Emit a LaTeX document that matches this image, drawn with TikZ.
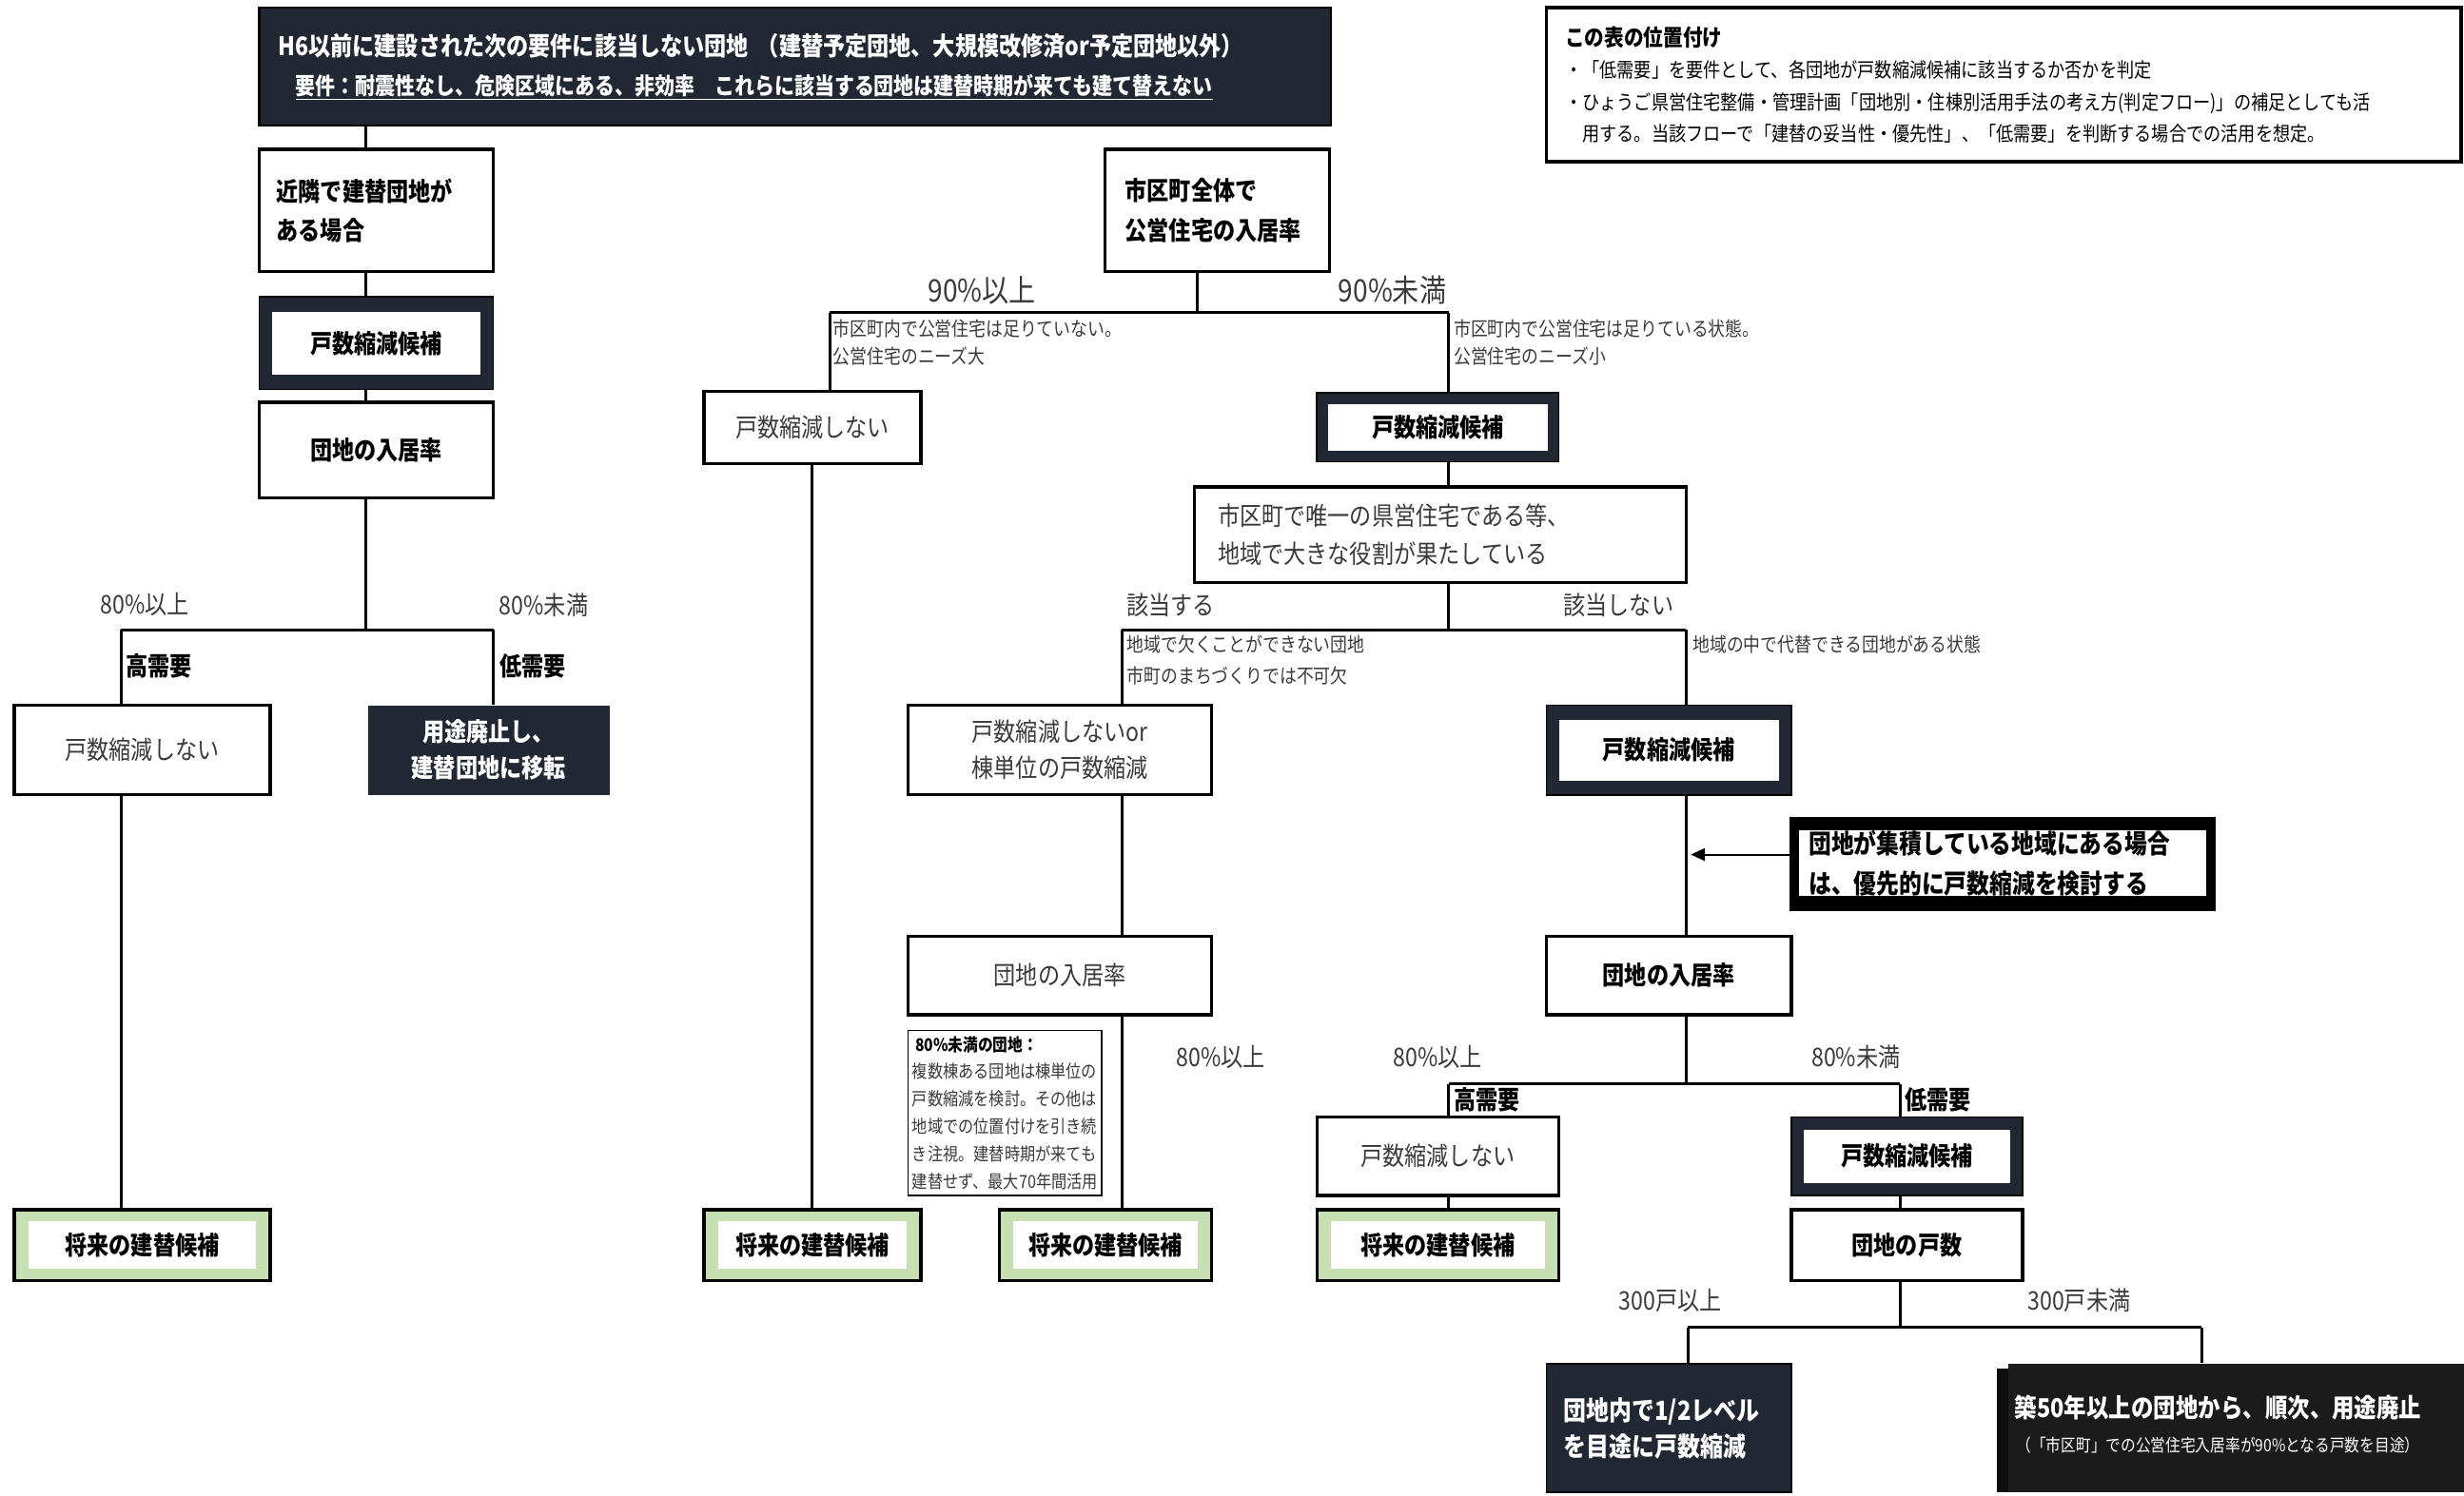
\documentclass[tikz,border=0pt]{standalone}
\usepackage{fontspec}
\setmainfont{Noto Sans CJK JP}[FakeStretch=0.86, Scale=1.163]
\usetikzlibrary{arrows.meta}
\definecolor{navy}{HTML}{222833}
\definecolor{greenc}{HTML}{C6E0B4}
\definecolor{blk}{HTML}{1B1B1B}
\definecolor{blk2}{HTML}{0E0E0E}
\definecolor{txtgray}{HTML}{3A3A3A}
\newcommand{\fsz}[2]{\fontsize{#1}{#2}\selectfont}
\begin{document}
\begin{tikzpicture}[x=1pt,y=-1pt,
  box/.style={draw=black, line width=2pt, fill=white, rectangle, inner sep=0pt, align=center},
  navyframe/.style={draw=black, line width=1pt, fill=navy, rectangle, inner sep=0pt},
  gframe/.style={draw=black, line width=2pt, fill=greenc, rectangle, inner sep=0pt},
  inwhite/.style={fill=white, rectangle, inner sep=0pt, align=center},
  lbl/.style={text=txtgray, inner sep=0pt, font=\fsz{14}{16}},
  blab/.style={inner sep=0pt, font=\fsz{14}{16}\bfseries},
  smalltxt/.style={text=txtgray, inner sep=0pt, anchor=west, font=\fsz{10.8}{12}},
  conn/.style={line width=1.8pt},
  Bfont/.style={font=\fsz{14}{25}\bfseries},
  Nfont/.style={font=\fsz{14}{25}, text=txtgray},
]
\useasboundingbox[fill=white] (0,0) rectangle (1568,952);

% ---- top box
\node[box, fill=navy, line width=1.5pt, minimum width=682, minimum height=75, text width=658, inner xsep=12, align=left, text=white, font=\fsz{14}{25}\bfseries] (nT) at (506,42.5)
 {H6以前に建設された次の要件に該当しない団地 （建替予定団地、大規模改修済or予定団地以外）\\\hspace*{11pt}{\fsz{12.7}{25}\underline{要件：耐震性なし、危険区域にある、非効率　これらに該当する団地は建替時期が来ても建て替えない}}};

% ---- top-right note
\node[draw=black, line width=2.2pt, fill=white, minimum width=582, minimum height=98, text width=558, inner xsep=12, inner ysep=0pt, align=left, font=\fsz{11}{20}] (nNB) at (1275,54)
 {{\fsz{12.5}{20}\bfseries この表の位置付け}\\・「低需要」を要件として、各団地が戸数縮減候補に該当するか否かを判定\\・ひょうご県営住宅整備・管理計画「団地別・住棟別活用手法の考え方(判定フロー)」の補足としても活\\\hspace*{11pt}用する。当該フローで「建替の妥当性・優先性」、「低需要」を判断する場合での活用を想定。};

% ---- left column
\node[box, minimum width=149, minimum height=78, text width=127, inner xsep=11, align=left, Bfont] (nA) at (239.5,134) {近隣で建替団地が\\ある場合};
\node[navyframe, minimum width=149, minimum height=59] (nB) at (239.5,218.5) {};
\node[inwhite, minimum width=133, minimum height=40, Bfont] (nBt) at (nB) {戸数縮減候補};
\node[box, minimum width=149, minimum height=61, Bfont] (nC) at (239.5,286.5) {団地の入居率};
\node[box, minimum width=163, minimum height=57, Nfont] (nD) at (90.5,477.5) {戸数縮減しない};
\node[rectangle, fill=navy, minimum width=154, minimum height=57, inner sep=0pt, text=white, align=center, font=\fsz{14}{23}\bfseries] (nE) at (311,477.5) {用途廃止し、\\建替団地に移転};
\node[gframe, minimum width=163, minimum height=45] (nF) at (90.5,792.5) {};
\node[inwhite, minimum width=145, minimum height=30, Bfont] (nFt) at (nF) {将来の建替候補};

% ---- middle column
\node[box, minimum width=143, minimum height=78, text width=117, inner xsep=13, align=left, Bfont] (nG) at (774.5,134) {市区町全体で\\公営住宅の入居率};
\node[box, minimum width=138, minimum height=46, Nfont] (nH) at (517,272) {戸数縮減しない};
\node[gframe, minimum width=138, minimum height=45] (nI) at (517,792.5) {};
\node[inwhite, minimum width=120, minimum height=30, Bfont] (nIt) at (nI) {将来の建替候補};
\node[navyframe, minimum width=154, minimum height=44] (nJ) at (915,272) {};
\node[inwhite, minimum width=140, minimum height=30, Bfont] (nJt) at (nJ) {戸数縮減候補};
\node[box, minimum width=313, minimum height=61, text width=283, inner xsep=15, align=left, font=\fsz{14}{24}, text=txtgray] (nK) at (916.5,340.5) {市区町で唯一の県営住宅である等、\\地域で大きな役割が果たしている};
\node[box, minimum width=193, minimum height=57, font=\fsz{14}{23}, text=txtgray] (nL) at (674.5,477.5) {戸数縮減しないor\\棟単位の戸数縮減};
\node[box, minimum width=193, minimum height=50, Nfont] (nM) at (674.5,621) {団地の入居率};
\node[gframe, minimum width=135, minimum height=45] (nN) at (703.5,792.5) {};
\node[inwhite, minimum width=117, minimum height=30, Bfont] (nNt) at (nN) {将来の建替候補};
\node[draw=black, line width=0.8pt, fill=white, minimum width=123, minimum height=105, inner sep=0pt, align=left, font=\fsz{9.8}{17.5}, text=txtgray] (nNote) at (639.5,708.5)
 {{\color{black}\fsz{9.5}{17.5}\bfseries\hspace*{2pt}80\%未満の団地：}\\複数棟ある団地は棟単位の\\戸数縮減を検討。その他は\\地域での位置付けを引き続\\き注視。建替時期が来ても\\建替せず、最大70年間活用};

% ---- right column
\node[navyframe, minimum width=156, minimum height=57] (nO) at (1062,477.5) {};
\node[inwhite, minimum width=140, minimum height=39, Bfont] (nOt) at (nO) {戸数縮減候補};
\node[box, minimum width=156, minimum height=50, Bfont] (nP) at (1062,621) {団地の入居率};
\node[fill=black, minimum width=271, minimum height=60, inner sep=0pt] (nQ) at (1274.5,550) {};
\node[fill=white, minimum width=259, minimum height=41, text width=247, inner xsep=6, inner ysep=0pt, align=left, font=\fsz{14.4}{25}\bfseries] (nQt) at (1274.5,549.5) {団地が集積している地域にある場合\\は、優先的に戸数縮減を検討する};
\node[box, minimum width=154, minimum height=50, Nfont] (nR) at (915,736) {戸数縮減しない};
\node[gframe, minimum width=154, minimum height=45] (nS) at (915,792.5) {};
\node[inwhite, minimum width=136, minimum height=30, Bfont] (nSt) at (nS) {将来の建替候補};
\node[navyframe, minimum width=147, minimum height=50] (nX) at (1213.5,736) {};
\node[inwhite, minimum width=131, minimum height=34, Bfont] (nXt) at (nX) {戸数縮減候補};
\node[box, minimum width=147, minimum height=45, Bfont] (nU) at (1213.5,792.5) {団地の戸数};
\node[rectangle, fill=navy, draw=black, line width=1pt, minimum width=156, minimum height=82, text width=134, inner xsep=11, inner ysep=0pt, align=left, text=white, font=\fsz{14.5}{23}\bfseries] (nV) at (1062,909) {団地内で1/2レベル\\を目途に戸数縮減};
\fill[blk2] (1271,871) rectangle (1300,950);
\node[fill=blk, minimum width=290, minimum height=82, inner sep=0pt] (nW) at (1423,909) {};
\node[anchor=west, text=white, inner sep=0pt, font=\fsz{14.2}{16}\bfseries] (nW1) at (1282,896) {築50年以上の団地から、順次、用途廃止};
\node[anchor=west, text=white, inner sep=0pt, font=\fsz{9.5}{11}] (nW2) at (1283,920) {（「市区町」での公営住宅入居率が90\%となる戸数を目途）};

% ---- labels
\node[lbl] (l1) at (92,385) {80\%以上};
\node[lbl] (l2) at (346,385) {80\%未満};
\node[blab, anchor=west] (l3) at (80,424) {高需要};
\node[blab, anchor=west] (l4) at (318,424) {低需要};
\node[lbl, font=\fsz{17}{19}] (l5) at (625,185) {90\%以上};
\node[lbl, font=\fsz{17}{19}] (l6) at (886,185) {90\%未満};
\node[smalltxt] (s1) at (530,209) {市区町内で公営住宅は足りていない。};
\node[smalltxt] (s2) at (530,227) {公営住宅のニーズ大};
\node[smalltxt] (s3) at (925,209) {市区町内で公営住宅は足りている状態。};
\node[smalltxt] (s4) at (925,227) {公営住宅のニーズ小};
\node[lbl] (l7) at (745,385) {該当する};
\node[lbl] (l8) at (1030,385) {該当しない};
\node[smalltxt] (s5) at (717,410) {地域で欠くことができない団地};
\node[smalltxt] (s6) at (717,430) {市町のまちづくりでは不可欠};
\node[smalltxt] (s7) at (1077,410) {地域の中で代替できる団地がある状態};
\node[lbl] (l9) at (777,673) {80\%以上};
\node[lbl] (l10) at (915,673) {80\%以上};
\node[lbl] (l11) at (1181,673) {80\%未満};
\node[blab, anchor=west] (l12) at (925,700) {高需要};
\node[blab, anchor=west] (l13) at (1212,700) {低需要};
\node[lbl] (l14) at (1063,828) {300戸以上};
\node[lbl] (l15) at (1323,828) {300戸未満};

% ---- connectors
\coordinate (cL) at (233,0);
\coordinate (cH) at (517,0);
\coordinate (j1) at (233,401); \coordinate (j1l) at (77,401); \coordinate (j1r) at (314,401);
\coordinate (j2) at (762,199); \coordinate (j2l) at (528,199); \coordinate (j2r) at (922,199);
\coordinate (j3) at (922,401); \coordinate (j3l) at (714,401); \coordinate (j3r) at (1073,401);
\coordinate (j4) at (1073,690); \coordinate (j4l) at (922,690); \coordinate (j4r) at (1209,690);
\coordinate (j5) at (1209,845); \coordinate (j5l) at (1074,845); \coordinate (j5r) at (1401,845);
\coordinate (qa) at (1076,544);

\draw[conn] (nT.south -| cL) -- (nA.north -| cL);
\draw[conn] (nA.south -| cL) -- (nB.north -| cL);
\draw[conn] (nB.south -| cL) -- (nC.north -| cL);
\draw[conn] (nC.south -| cL) -- (j1);
\draw[conn] (j1l) -- (j1r);
\draw[conn] (j1l) -- (nD.north -| j1l);
\draw[conn] (j1r) -- (nE.north -| j1r);
\draw[conn] (nD.south -| j1l) -- (nF.north -| j1l);

\draw[conn] (nG.south -| j2) -- (j2);
\draw[conn] (j2l) -- (j2r);
\draw[conn] (j2l) -- (nH.north -| j2l);
\draw[conn] (nH.south -| cH) -- (nI.north -| cH);
\draw[conn] (j2r) -- (nJ.north -| j2r);
\draw[conn] (nJ.south -| j2r) -- (nK.north -| j2r);
\draw[conn] (nK.south -| j3) -- (j3);
\draw[conn] (j3l) -- (j3r);
\draw[conn] (j3l) -- (nL.north -| j3l);
\draw[conn] (nL.south -| j3l) -- (nM.north -| j3l);
\draw[conn] (nM.south -| j3l) -- (nN.north -| j3l);
\draw[conn] (j3r) -- (nO.north -| j3r);
\draw[conn] (nO.south -| j3r) -- (nP.north -| j3r);
\draw[conn] (nP.south -| j4) -- (j4);
\draw[conn] (j4l) -- (j4r);
\draw[conn] (j4l) -- (nR.north -| j4l);
\draw[conn] (nR.south -| j4l) -- (nS.north -| j4l);
\draw[conn] (j4r) -- (nX.north -| j4r);
\draw[conn] (nX.south -| j4r) -- (nU.north -| j4r);
\draw[conn] (nU.south -| j5) -- (j5);
\draw[conn] (j5l) -- (j5r);
\draw[conn] (j5l) -- (nV.north -| j5l);
\draw[conn] (j5r) -- (nW.north -| j5r);
\draw[line width=1.3pt, -{Triangle[length=9pt,width=8pt]}] (nQ.west |- qa) -- (qa);
\end{tikzpicture}
\end{document}
